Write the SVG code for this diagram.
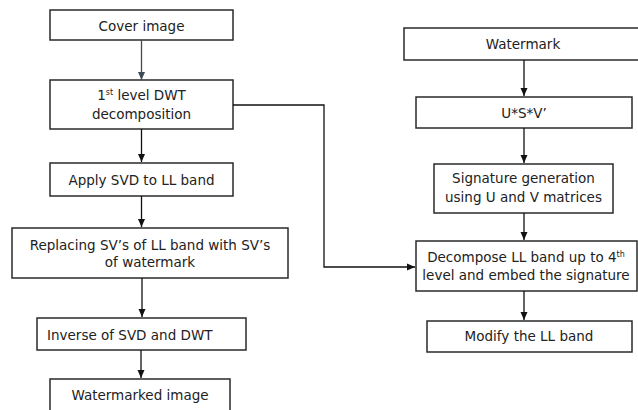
<svg xmlns="http://www.w3.org/2000/svg" width="638" height="410" viewBox="0 0 638 410">
<defs>
<marker id="ah" viewBox="0 0 8 8" refX="8" refY="4" markerWidth="8" markerHeight="8" markerUnits="userSpaceOnUse" orient="auto"><path d="M0,0.5 L8,4 L0,7.5 Z" fill="#111"/></marker>
<marker id="ahg" viewBox="0 0 8 8" refX="8" refY="4" markerWidth="8" markerHeight="8" markerUnits="userSpaceOnUse" orient="auto"><path d="M0,0.5 L8,4 L0,7.5 Z" fill="#3d4b55"/></marker>
<style>
rect{fill:#fff;stroke:#2a2a2a;stroke-width:1.5}
text{font-family:"DejaVu Sans","Liberation Sans",sans-serif;font-size:13.5px;fill:#222;text-anchor:middle}
.c{fill:none;stroke:#111;stroke-width:1.3}
sup,.s{font-size:8px}
</style>
</defs>
<rect x="0" y="0" width="638" height="410" style="fill:#fff;stroke:none"/>
<g id="cover"><rect x="50" y="10" width="183" height="30"/><text x="141.5" y="31">Cover image</text></g>
<g id="dwt"><rect x="50" y="80" width="183" height="49"/><text x="141.5" y="100">1<tspan class="s" dy="-5">st</tspan><tspan dy="5"> level DWT</tspan></text><text x="141.5" y="119">decomposition</text></g>
<g id="applysvd"><rect x="50" y="163" width="183" height="33"/><text x="141.5" y="185">Apply SVD to LL band</text></g>
<g id="replacing"><rect x="12" y="228" width="276" height="50"/><text x="150" y="250">Replacing SV’s of LL band with SV’s</text><text x="150" y="267">of watermark</text></g>
<g id="inverse"><rect x="37" y="318" width="209" height="32"/><text x="47" y="340" style="text-anchor:start">Inverse of SVD and DWT</text></g>
<g id="watermarked"><rect x="50" y="379" width="180" height="34"/><text x="140" y="400">Watermarked image</text></g>
<g id="watermark"><rect x="404" y="28" width="240" height="32"/><text x="523" y="49">Watermark</text></g>
<g id="usv"><rect x="416" y="97" width="216" height="31"/><text x="524" y="118">U*S*V’</text></g>
<g id="signature"><rect x="434" y="164" width="179" height="49"/><text x="523.5" y="183">Signature generation</text><text x="523.5" y="202">using U and V matrices</text></g>
<g id="decompose"><rect x="416" y="241" width="221" height="50"/><text x="526" y="262">Decompose LL band up to 4<tspan class="s" dy="-5">th</tspan></text><text x="526" y="280">level and embed the signature</text></g>
<g id="modify"><rect x="427" y="321" width="205" height="31"/><text x="529" y="341">Modify the LL band</text></g>
<g id="connectors">
<line x1="141.5" y1="40" x2="141.5" y2="80" style="fill:none;stroke:#3d4b55;stroke-width:1.3" marker-end="url(#ahg)"/>
<line class="c" x1="141.5" y1="129" x2="141.5" y2="162" marker-end="url(#ah)"/>
<line class="c" x1="141.5" y1="196" x2="141.5" y2="227" marker-end="url(#ah)"/>
<line class="c" x1="142" y1="278" x2="142" y2="317" marker-end="url(#ah)"/>
<line class="c" x1="141" y1="350" x2="141" y2="378" marker-end="url(#ah)"/>
<line class="c" x1="524" y1="60" x2="524" y2="96" marker-end="url(#ah)"/>
<line class="c" x1="524" y1="128" x2="524" y2="163" marker-end="url(#ah)"/>
<line class="c" x1="524" y1="213" x2="524" y2="240" marker-end="url(#ah)"/>
<line class="c" x1="524" y1="291" x2="524" y2="320" marker-end="url(#ah)"/>
<polyline class="c" points="233,105 324,105 324,267 415,267" marker-end="url(#ah)"/>
</g>
</svg>
